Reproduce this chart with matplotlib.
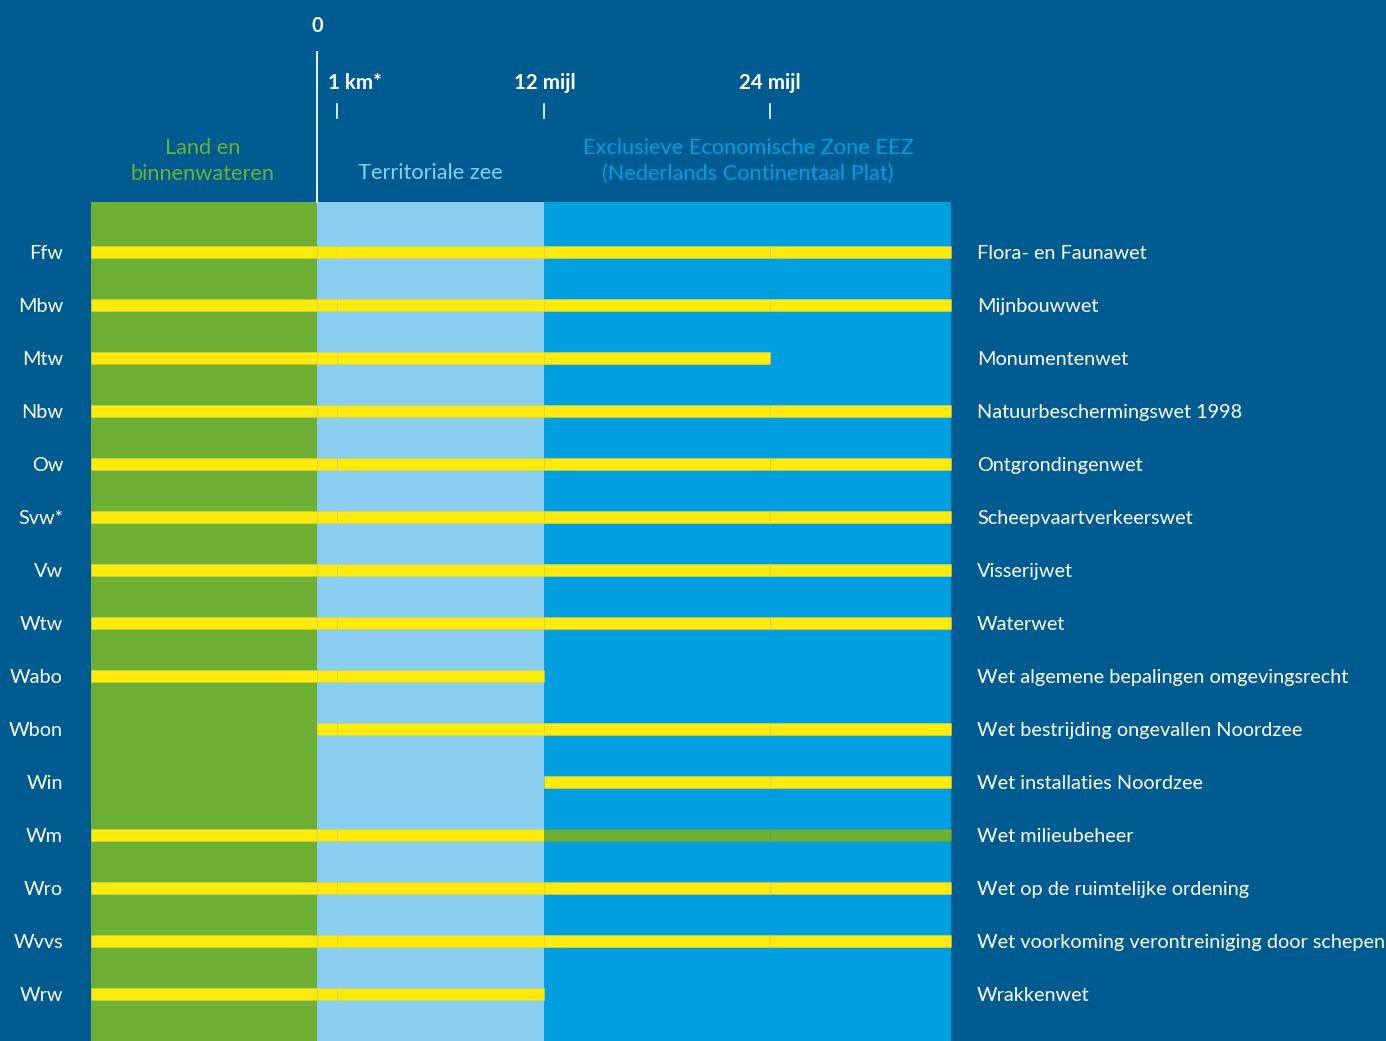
import matplotlib
matplotlib.use("Agg")
import matplotlib.pyplot as plt
from matplotlib.patches import Rectangle

# ---------------------------------------------------------------- kleuren
BG = "#005B91"
GREEN = "#6EAF36"
LIGHT = "#8ACFEF"
BLUE = "#009FDF"
YELLOW = "#FFEA0E"
WHITE = "#FFFFFF"

plt.rcParams["font.family"] = ["Lato", "DejaVu Sans"]

# ---------------------------------------------------------------- data
# grenzen in eenheden van 12 mijl (0 = kustlijn)
edges = [-1.0, 0.0, 0.088, 1.0, 2.0, 2.8]
edge_labels = ["", "0", "1 km*", "12 mijl", "24 mijl", ""]

codes = ["Ffw", "Mbw", "Mtw", "Nbw", "Ow", "Svw*", "Vw", "Wtw", "Wabo",
         "Wbon", "Win", "Wm", "Wro", "Wvvs", "Wrw"]
names = ["Flora- en Faunawet", "Mijnbouwwet", "Monumentenwet",
         "Natuurbeschermingswet 1998", "Ontgrondingenwet",
         "Scheepvaartverkeerswet", "Visserijwet", "Waterwet",
         "Wet algemene bepalingen omgevingsrecht",
         "Wet bestrijding ongevallen Noordzee", "Wet installaties Noordzee",
         "Wet milieubeheer", "Wet op de ruimtelijke ordening",
         "Wet voorkoming verontreiniging door schepen", "Wrakkenwet"]
# werkingsgebied: index van begin- en eindgrens (geel)
start = [0, 0, 0, 0, 0, 0, 0, 0, 0, 1, 3, 0, 0, 0, 0]
end = [5, 5, 4, 5, 5, 5, 5, 5, 3, 5, 5, 3, 5, 5, 3]
# deel van de wet in groen (Wet milieubeheer)
green_start = [None] * 11 + [3] + [None] * 3
green_end = [None] * 11 + [5] + [None] * 3

# ---------------------------------------------------------------- figuur
W, H = 1386, 1041
PX = 226.5       # pixels per eenheid
X0 = 317         # pixel van kustlijn
ROW0, ROWH = 252, 53

fig = plt.figure(figsize=(W / 100, H / 100), dpi=100)
fig.patch.set_facecolor(BG)
ax = fig.add_axes([0, 0, 1, 1])
ax.set_facecolor(BG)
ax.set_xlim(-X0 / PX, (W - X0) / PX)
ax.set_ylim((H - ROW0) / ROWH, -ROW0 / ROWH)
ax.axis("off")

def py(p):
    return (p - ROW0) / ROWH

def px(p):
    return (p - X0) / PX

top = py(202)
bottom = py(H)
zones = [(edges[0], edges[1], GREEN), (edges[1], edges[3], LIGHT),
         (edges[3], edges[5], BLUE)]
for a, b, c in zones:
    ax.add_patch(Rectangle((a, top), b - a, bottom - top, fc=c, ec="none", zorder=1))

bh = 12 / ROWH
dy = 2 / ROWH
for i in range(len(codes)):
    segs = []
    for k in range(start[i], end[i]):
        segs.append((edges[k], edges[k + 1], YELLOW))
    if green_start[i] is not None:
        for k in range(green_start[i], green_end[i]):
            segs.append((edges[k], edges[k + 1], GREEN))
    for a, b, c in segs:
        ax.add_patch(Rectangle((a, i - bh / 2), b - a, bh, fc=c,
                               ec="#D6D24A" if c == YELLOW else "#5E9E40",
                               lw=0.4, zorder=3))
    ax.text(px(63), i + dy, codes[i], color=WHITE, fontsize=14.3, ha="right",
            va="center", zorder=5)
    ax.text(px(977), i + dy, names[i], color=WHITE, fontsize=14.3, ha="left",
            va="center", zorder=5)

# ---------------------------------------------------------------- schaal bovenaan
ax.plot([0, 0], [py(52), top], color=WHITE, lw=1.3, zorder=4)
ax.text(0, py(26), edge_labels[1], color=WHITE, fontsize=14.5,
        fontweight="bold", ha="center", va="center")
label_x = {2: px(355), 3: px(545), 4: px(770)}
for k in (2, 3, 4):
    ax.text(label_x[k], py(83), edge_labels[k], color=WHITE, fontsize=14.8,
            fontweight="bold", ha="center", va="center")
    ax.plot([edges[k], edges[k]], [py(104), py(118)], color=WHITE, lw=1.2)

# ---------------------------------------------------------------- zonetitels
ax.text(px(203), py(161), "Land en\nbinnenwateren", color=GREEN, fontsize=15.7,
        ha="center", va="center", linespacing=1.38)
ax.text(px(430), py(173), "Territoriale zee", color=LIGHT, fontsize=15.7,
        ha="center", va="center")
ax.text(px(748), py(161), "Exclusieve Economische Zone EEZ\n(Nederlands Continentaal Plat)",
        color=BLUE, fontsize=15.7, ha="center", va="center", linespacing=1.38)

fig.savefig("out.png", dpi=100, facecolor=BG)
